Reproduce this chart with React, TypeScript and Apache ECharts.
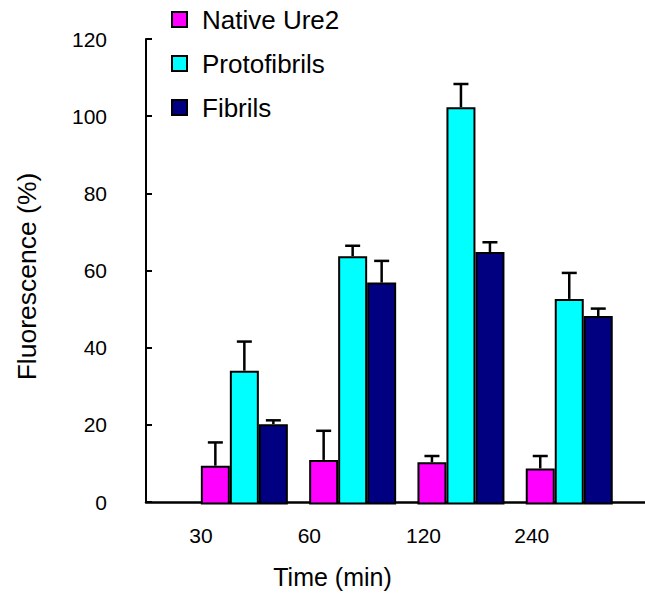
import React, { useEffect, useRef } from "react";
import * as echarts from "echarts";

const categories = ["30", "60", "120", "240"];
const seriesNames = ["Native Ure2", "Protofibrils", "Fibrils"];
const nativeVals = [10, 11.5, 10.9, 9.3];
const nativeErr = [6, 7.5, 1.6, 3.2];
const protoVals = [34.5, 64, 102.4, 53];
const protoErr = [7.5, 2.7, 6, 6.7];
const fibrilVals = [20.7, 57.2, 65.1, 48.6];
const fibrilErr = [1, 5.6, 2.5, 1.9];
const yMin = 0;
const yMax = 120;
const yInterval = 20;

const colors = ["#FF00FF", "#00FFFF", "#000080"];
const BAR_W = 29;
const FONT = "Liberation Sans, Arial, Helvetica, sans-serif";

export default function App() {
  const ref = useRef<HTMLDivElement>(null);
  useEffect(() => {
    if (!ref.current) return;
    const chart = echarts.init(ref.current, undefined, { renderer: "svg" });
    const vals = [nativeVals, protoVals, fibrilVals];
    const errs = [nativeErr, protoErr, fibrilErr];
    const errData: number[][] = [];
    vals.forEach((arr, k) => {
      arr.forEach((v, i) => errData.push([i, v, errs[k][i], k]));
    });
    const gridTop = 39;
    const gridBottom = 89.5;
    const barsLeft = 190.2;
    const barsRight = 21.6;
    const labelShift = 55;
    chart.setOption({
      animation: false,
      textStyle: { fontFamily: FONT },
      legend: {
        data: seriesNames.map((name) => ({ name, icon: "rect" })),
        orient: "vertical",
        left: 166,
        top: 1.5,
        itemWidth: 15,
        itemHeight: 15,
        itemGap: 18,
        textStyle: {
          fontSize: 26,
          lineHeight: 26,
          color: "#000",
          fontFamily: FONT,
          padding: [0, 0, 0, 10],
        },
        selectedMode: false,
      },
      grid: [
        { left: 146, right: 0, top: gridTop, bottom: gridBottom },
        { left: barsLeft, right: barsRight, top: gridTop, bottom: gridBottom },
        { left: barsLeft - labelShift, right: barsRight + labelShift, top: gridTop, bottom: gridBottom },
      ],
      xAxis: [
        {
          type: "value",
          gridIndex: 0,
          min: 0,
          max: 1,
          axisLine: { show: true, onZero: false, lineStyle: { color: "#000", width: 2.5 } },
          axisTick: { show: false },
          axisLabel: { show: false },
          splitLine: { show: false },
          name: "Time (min)",
          nameLocation: "middle",
          nameGap: 62,
          nameTextStyle: { fontSize: 25, color: "#000", fontFamily: FONT, padding: [0, 126, 0, 0] },
        },
        {
          type: "category",
          gridIndex: 1,
          data: categories,
          axisLine: { show: false },
          axisTick: { show: false },
          axisLabel: { show: false },
        },
        {
          type: "category",
          gridIndex: 2,
          data: categories,
          axisLine: { show: false },
          axisTick: { show: false },
          axisLabel: {
            fontSize: 21,
            color: "#000",
            margin: 20,
            align: "left",
            fontFamily: FONT,
          },
        },
      ],
      yAxis: [
        {
          type: "value",
          gridIndex: 0,
          min: yMin,
          max: yMax,
          interval: yInterval,
          axisLine: { show: true, lineStyle: { color: "#000", width: 2 } },
          axisTick: { show: true, inside: true, length: 6, lineStyle: { color: "#000", width: 2 } },
          axisLabel: { fontSize: 21, color: "#000", margin: 39, fontFamily: FONT },
          splitLine: { show: false },
          name: "Fluorescence (%)",
          nameLocation: "middle",
          nameGap: 106,
          nameTextStyle: { fontSize: 26.5, color: "#000", fontFamily: FONT, padding: [0, 12, 0, 0] },
        },
        {
          type: "value",
          gridIndex: 1,
          min: yMin,
          max: yMax,
          interval: yInterval,
          show: false,
        },
        {
          type: "value",
          gridIndex: 2,
          min: yMin,
          max: yMax,
          interval: yInterval,
          show: false,
        },
      ],
      series: [
        ...seriesNames.map((name, k) => ({
          name,
          type: "bar",
          xAxisIndex: 1,
          yAxisIndex: 1,
          data: vals[k],
          barWidth: BAR_W,
          barGap: "0%",
          itemStyle: { color: colors[k], borderColor: "#000", borderWidth: 2 },
        })),
        {
          type: "custom",
          name: "err",
          xAxisIndex: 1,
          yAxisIndex: 1,
          data: errData,
          encode: { x: 0, y: 1 },
          z: 5,
          renderItem: (params: any, api: any) => {
            const ci = api.value(0);
            const v = api.value(1);
            const e = api.value(2);
            const k = api.value(3);
            const p0 = api.coord([ci, v]);
            const p1 = api.coord([ci, v + e]);
            const x = p0[0] + (k - 1) * BAR_W;
            return {
              type: "group",
              children: [
                {
                  type: "line",
                  shape: { x1: x, y1: p0[1], x2: x, y2: p1[1] },
                  style: { stroke: "#000", lineWidth: 2.5 },
                },
                {
                  type: "line",
                  shape: { x1: x - 7.5, y1: p1[1], x2: x + 7.5, y2: p1[1] },
                  style: { stroke: "#000", lineWidth: 2.5 },
                },
              ],
            };
          },
        },
      ],
    });
    return () => chart.dispose();
  }, []);
  return (
    <div
      ref={ref}
      style={{ position: "absolute", left: 0, top: 0, width: 645, height: 594, background: "#fff" }}
    />
  );
}
